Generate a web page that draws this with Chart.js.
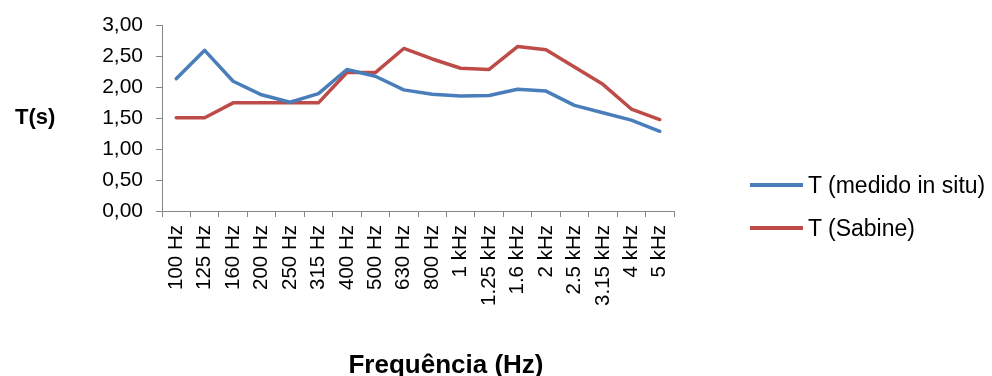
<!DOCTYPE html>
<html>
<head>
<meta charset="utf-8">
<script src="https://cdn.jsdelivr.net/npm/chart.js@4"></script>
<style>
  html, body { margin: 0; padding: 0; background: #fff; }
  #wrap { position: relative; width: 992px; height: 376px; font-family: "Liberation Sans", Arial, sans-serif; color: #000; }
  #chart { position: absolute; left: 0; top: 0; }
  .ytitle { position: absolute; left: 15px; top: 104px; font-weight: bold; font-size: 22px; }
  .xtitle { position: absolute; left: 0; width: 892px; text-align: center; top: 349px; font-weight: bold; font-size: 26px; }
  #legend { position: absolute; left: 750px; top: 170px; font-size: 23px; }
  .legend-item { display: flex; align-items: center; height: 30px; margin-bottom: 13px; }
  .legend-line { width: 53px; height: 3.5px; margin-right: 5px; }
</style>
</head>
<body>
<div id="wrap">
  <canvas id="chart" width="992" height="376"></canvas>
  <div class="ytitle">T(s)</div>
  <div class="xtitle">Frequência (Hz)</div>
  <div id="legend"></div>
</div>
<script>
// --- DATA ---
const frequencies = ['100 Hz', '125 Hz', '160 Hz', '200 Hz', '250 Hz', '315 Hz', '400 Hz', '500 Hz', '630 Hz',
    '800 Hz', '1 kHz', '1.25 kHz', '1.6 kHz', '2 kHz', '2.5 kHz', '3.15 kHz', '4 kHz', '5 kHz'];
const tMedido = [2.14, 2.60, 2.10, 1.88, 1.76, 1.90, 2.29, 2.18, 1.96, 1.89, 1.86, 1.87, 1.97, 1.94, 1.71, 1.59, 1.47, 1.29];
const tSabine = [1.51, 1.51, 1.75, 1.75, 1.75, 1.75, 2.24, 2.24, 2.63, 2.46, 2.31, 2.29, 2.66, 2.61, 2.33, 2.05, 1.65, 1.48];
const seriesNames = ['T (medido in situ)', 'T (Sabine)'];
const yMin = 0, yMax = 3, yStep = 0.5;

const FONT = '"Liberation Sans", Arial, sans-serif';
const axisGray = '#868686';
const colors = ['#4A7EBB', '#BE4B48'];

const chart = new Chart(document.getElementById('chart'), {
    type: 'line',
    data: {
        labels: frequencies,
        datasets: [
            { label: seriesNames[0], data: tMedido, borderColor: colors[0], backgroundColor: colors[0] },
            { label: seriesNames[1], data: tSabine, borderColor: colors[1], backgroundColor: colors[1] }
        ]
    },
    options: {
        responsive: false,
        animation: false,
        layout: { padding: { left: 0, top: 25, right: 318, bottom: 0 } },
        elements: {
            line: { borderWidth: 3.5, tension: 0, borderCapStyle: 'round', borderJoinStyle: 'round' },
            point: { radius: 0, hoverRadius: 0 }
        },
        plugins: { legend: { display: false }, tooltip: { enabled: false } },
        scales: {
            x: {
                offset: true,
                afterFit: (s) => { s.height = 165; },
                grid: { offset: true, drawOnChartArea: false, tickLength: 6, color: axisGray },
                border: { color: axisGray, width: 1 },
                ticks: {
                    autoSkip: false, minRotation: 90, maxRotation: 90, padding: 8,
                    color: '#000', font: { family: FONT, size: 20.5 }
                }
            },
            y: {
                min: yMin, max: yMax,
                afterFit: (s) => { s.width = 162; },
                grid: { drawOnChartArea: false, tickLength: 6, color: axisGray },
                border: { color: axisGray, width: 1 },
                ticks: {
                    stepSize: yStep, padding: 13, color: '#000',
                    font: { family: FONT, size: 21 },
                    callback: (v) => v.toFixed(2).replace('.', ',')
                }
            }
        }
    }
});

// --- HTML LEGEND ---
const legendEl = document.getElementById('legend');
legendEl.innerHTML = chart.data.datasets.map(ds => `
    <div class="legend-item">
        <span class="legend-line" style="background:${ds.borderColor}"></span>
        <span>${ds.label}</span>
    </div>`).join('');
</script>
</body>
</html>
